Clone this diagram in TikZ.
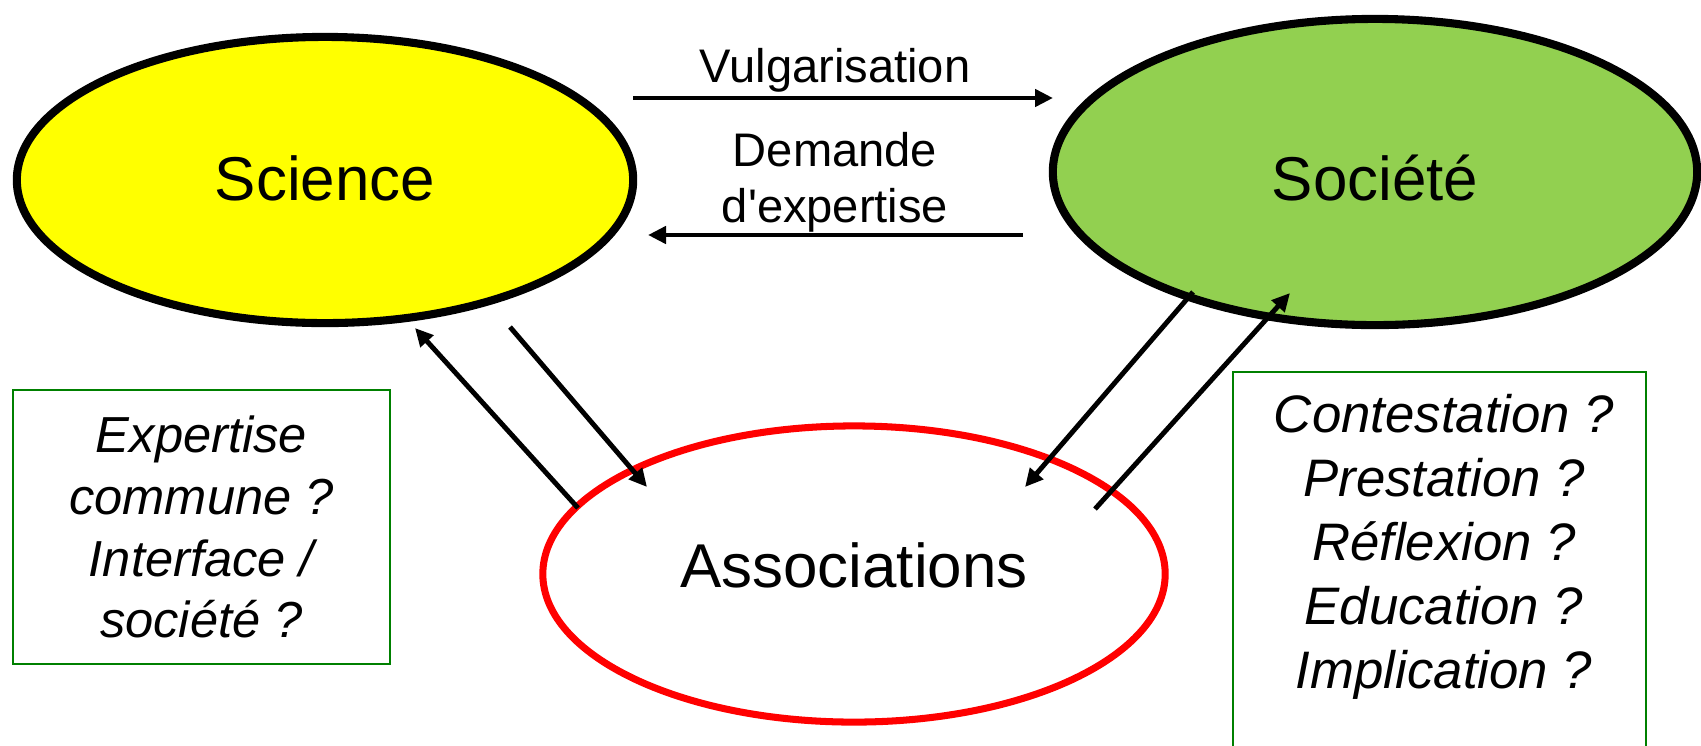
\documentclass[tikz,border=0pt]{standalone}
\usepackage{fontspec}
\setmainfont{Liberation Sans}
\usetikzlibrary{shapes.geometric,arrows.meta}

\definecolor{c_science}{RGB}{255,255,0}
\definecolor{c_societe}{RGB}{146,208,80}
\definecolor{c_assoc}{RGB}{255,0,0}
\definecolor{c_note}{RGB}{0,128,0}

\begin{document}
\begin{tikzpicture}[x=0.01cm, y=-0.01cm,
  actor/.style = {ellipse, draw, inner sep=0pt,
    font=\fontsize{17.6}{21}\selectfont},
  flow/.style = {line width=1.4pt, -{Triangle[length=0.18cm, width=0.17cm]}},
  flowlabel/.style = {inner sep=0pt, align=center,
    font=\fontsize{13.4}{15.9}\selectfont},
  notebox/.style = {draw=c_note, line width=0.6pt, inner sep=0pt},
  notetext/.style = {inner sep=0pt, align=center}]

\useasboundingbox (0,0) rectangle (1701,745);

% Main actors
\node (sci) at (325,180) [actor, line width=2.3pt, fill=c_science,
  minimum width=6.16cm, minimum height=2.86cm,
  text height=0.45cm, text depth=0.05cm] {Science};
\node (soc) at (1375,172) [actor, line width=2.3pt, fill=c_societe,
  minimum width=6.44cm, minimum height=3.06cm,
  text height=0.57cm, text depth=0cm] {Société};
\node (assoc) at (854,574) [actor, draw=c_assoc, line width=2pt,
  minimum width=6.22cm, minimum height=2.96cm,
  text height=0.45cm, text depth=0.19cm] {Associations};

% Science <-> Societe
\coordinate (vulgfrom) at (633,98);
\coordinate (vulgto) at (1053,98);
\coordinate (demfrom) at (1023,235);
\coordinate (demto) at (648,235);
\draw[flow] (vulgfrom) -- (vulgto);
\draw[flow] (demfrom) -- (demto);
\node (vulg) at (835,82) [flowlabel, anchor=base] {Vulgarisation};
\node (dem) at (835,182) [flowlabel] {Demande\\d\textquotesingle expertise};

% Associations <-> Science
\coordinate (sciup) at (415,328);
\coordinate (assocupfrom) at (578,508);
\coordinate (scidown) at (510,327);
\coordinate (assocdownto) at (647,487);
\draw[flow] (assocupfrom) -- (sciup);
\draw[flow] (scidown) -- (assocdownto);

% Associations <-> Societe
\coordinate (socdown) at (1193,292);
\coordinate (associn) at (1025,487);
\coordinate (assocout) at (1095,509);
\coordinate (socup) at (1290,293);
\draw[flow] (socdown) -- (associn);
\draw[flow] (assocout) -- (socup);

% Questions
\node (leftnote) at (201.5,527) [notebox, notetext,
  minimum width=3.77cm, minimum height=2.74cm,
  font=\fontsize{14.4}{17.6}\selectfont\itshape]
  {Expertise\\commune ?\\Interface /\\société ?};

\node (rightbox) at (1439.5,581) [notebox,
  minimum width=4.13cm, minimum height=4.18cm] {};
\node (rightnote) at (1444,547) [notetext,
  font=\fontsize{15}{18.2}\selectfont\itshape]
  {Contestation ?\\Prestation ?\\Réflexion ?\\Education ?\\Implication ?};

\end{tikzpicture}
\end{document}
